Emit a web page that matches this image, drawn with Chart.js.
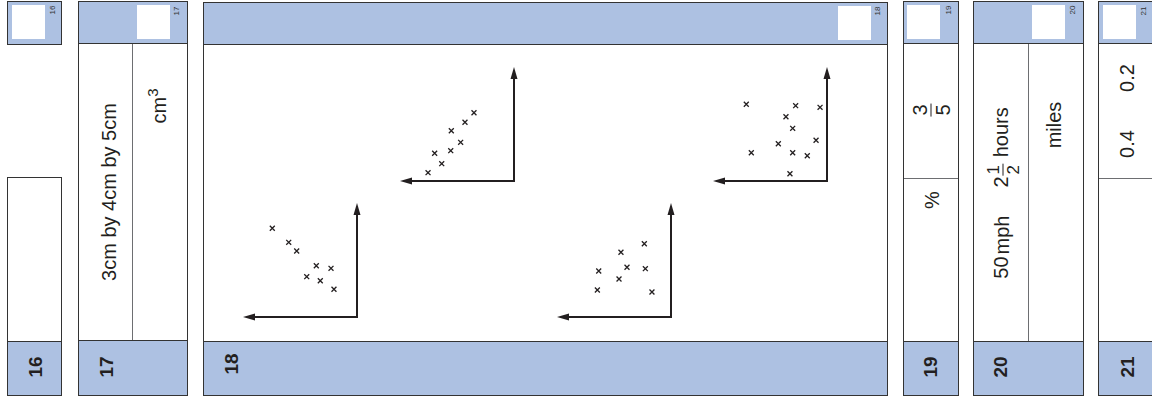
<!DOCTYPE html>
<html>
<head>
<meta charset="utf-8">
<script src="https://cdn.jsdelivr.net/npm/chart.js@4.4.1/dist/chart.umd.min.js"></script>
<style>
  body { margin:0; width:1152px; height:398px; overflow:hidden; position:relative; background:#fff;
         font-family:"Liberation Sans", Arial, sans-serif; color:#231f20; }
  .box  { position:absolute; box-sizing:border-box; border:1.5px solid #333; background:#fff; }
  .blue { position:absolute; background:#adc1e2; box-sizing:border-box; }
  .sq   { position:absolute; background:#fff; }
  .vline { position:absolute; width:0; border-left:1.5px solid #6d6e71; }
  .hline { position:absolute; height:0; border-top:1.5px solid #6d6e71; }
  .rot  { position:absolute; transform:translate(-50%,-50%) rotate(-90deg); white-space:nowrap; line-height:1; }
  .big  { font-size:20px; }
  .num  { font-size:19px; font-weight:bold; }
  .tiny { font-size:8px; color:#333; }
  .frac { display:inline-flex; flex-direction:column; align-items:center; vertical-align:middle; font-size:0.85em; line-height:1; margin:0 1px; }
  .frac span:first-child { border-bottom:1.2px solid #231f20; padding:0 1px 1px; }
  .frac span:last-child { padding-top:1px; }
  .plot { position:absolute; width:130px; height:130px; }
</style>
</head>
<body>

<!-- 16 -->
<div class="box blue" style="left:7px;top:1px;width:55px;height:44px;"></div>
<div class="sq" style="left:12px;top:5px;width:33px;height:34px;"></div>
<div class="rot tiny" style="left:53px;top:10px;">16</div>
<div class="box" style="left:7px;top:177px;width:55px;height:219px;"></div>
<div class="blue" style="left:8px;top:341px;width:53px;height:54px;border-top:1.5px solid #333;"></div>
<div class="rot num" style="left:35px;top:367px;">16</div>

<!-- 17 -->
<div class="box" style="left:78px;top:1px;width:110px;height:395px;"></div>
<div class="blue" style="left:79px;top:2px;width:108px;height:42px;border-bottom:1.5px solid #333;"></div>
<div class="sq" style="left:137px;top:5px;width:33px;height:34px;"></div>
<div class="rot tiny" style="left:177px;top:11px;">17</div>
<div class="vline" style="left:132px;top:44px;height:297px;"></div>
<div class="blue" style="left:79px;top:340px;width:108px;height:55px;border-top:1.5px solid #333;"></div>
<div class="rot num" style="left:106px;top:367px;">17</div>
<div class="rot big" style="left:109px;top:192px;">3cm by 4cm by 5cm</div>
<div class="rot big" style="left:157px;top:106px;">cm<sup style="font-size:0.75em;">3</sup></div>

<!-- 18 -->
<div class="box" style="left:203px;top:2px;width:685px;height:394px;"></div>
<div class="blue" style="left:204px;top:3px;width:683px;height:42px;border-bottom:1.5px solid #333;"></div>
<div class="sq" style="left:838px;top:6px;width:33px;height:34px;"></div>
<div class="rot tiny" style="left:878px;top:11px;">18</div>
<div class="blue" style="left:204px;top:341px;width:683px;height:54px;border-top:1.5px solid #333;"></div>
<div class="rot num" style="left:231px;top:364px;">18</div>

<div class="plot" style="left:235px;top:195px;"><canvas id="plotNeg"></canvas></div>
<div class="plot" style="left:392px;top:59px;"><canvas id="plotPos"></canvas></div>
<div class="plot" style="left:549px;top:195px;"><canvas id="plotWeak"></canvas></div>
<div class="plot" style="left:705px;top:59px;"><canvas id="plotNone"></canvas></div>

<!-- 19 -->
<div class="box" style="left:903px;top:1px;width:56px;height:395px;"></div>
<div class="blue" style="left:904px;top:2px;width:54px;height:42px;border-bottom:1.5px solid #333;"></div>
<div class="sq" style="left:907px;top:5px;width:33px;height:34px;"></div>
<div class="rot tiny" style="left:949px;top:10px;">19</div>
<div class="hline" style="left:904px;top:178px;width:54px;"></div>
<div class="blue" style="left:904px;top:341px;width:54px;height:54px;border-top:1.5px solid #333;"></div>
<div class="rot num" style="left:930px;top:367px;">19</div>
<div class="rot big" style="left:931px;top:110px;"><span class="frac" style="font-size:1em;"><span>3</span><span>5</span></span></div>
<div class="rot big" style="left:932px;top:200px;">%</div>

<!-- 20 -->
<div class="box" style="left:973px;top:1px;width:111px;height:395px;"></div>
<div class="blue" style="left:974px;top:2px;width:109px;height:42px;border-bottom:1.5px solid #333;"></div>
<div class="sq" style="left:1032px;top:5px;width:33px;height:34px;"></div>
<div class="rot tiny" style="left:1073px;top:10px;">20</div>
<div class="vline" style="left:1028px;top:44px;height:297px;"></div>
<div class="blue" style="left:974px;top:341px;width:109px;height:54px;border-top:1.5px solid #333;"></div>
<div class="rot num" style="left:1000px;top:367px;">20</div>
<div class="rot big" style="left:1003px;top:193px;">50<span style="margin-left:2px;">mph</span><span style="display:inline-block;width:28px;"></span>2<span class="frac"><span>1</span><span>2</span></span> hours</div>
<div class="rot big" style="left:1054px;top:125px;">miles</div>

<!-- 21 -->
<div class="box" style="left:1098px;top:1px;width:120px;height:395px;"></div>
<div class="blue" style="left:1099px;top:2px;width:118px;height:42px;border-bottom:1.5px solid #333;"></div>
<div class="sq" style="left:1103px;top:5px;width:33px;height:34px;"></div>
<div class="rot tiny" style="left:1144px;top:11px;">21</div>
<div class="hline" style="left:1099px;top:178px;width:118px;"></div>
<div class="blue" style="left:1099px;top:341px;width:118px;height:54px;border-top:1.5px solid #333;"></div>
<div class="rot num" style="left:1127px;top:367px;">21</div>
<div class="rot big" style="left:1127px;top:78px;">0.2</div>
<div class="rot big" style="left:1127px;top:144px;">0.4</div>

<script>
// four scatter sketches, axes run 0..10, x grows to the left
const negX  = [7.43, 5.99, 5.29, 3.57, 2.28, 4.41, 3.22, 2.02];
const negY  = [7.78, 6.55, 5.79, 4.50, 4.27, 3.54, 3.18, 2.43];

const posX  = [3.51, 4.30, 5.50, 4.68, 5.55, 6.96, 6.34, 7.54];
const posY  = [5.99, 5.15, 4.41, 3.39, 2.66, 2.43, 1.52, 0.73];

const weakX = [2.34, 4.39, 6.34, 3.86, 2.25, 4.56, 6.46, 1.67];
const weakY = [6.43, 5.68, 4.04, 4.36, 4.24, 3.33, 2.37, 2.19];

const noneX = [7.08, 2.75, 0.61, 3.60, 3.01, 0.96, 4.27, 6.64, 3.01, 1.73, 3.25];
const noneY = [6.73, 6.61, 6.46, 5.64, 4.62, 3.57, 3.27, 2.48, 2.48, 2.22, 0.64];

const axisMax = 10;
const ink = '#231f20';

const arrowAxes = {
  id: 'arrowAxes',
  beforeDatasetsDraw(chart) {
    const { ctx, scales: { x, y } } = chart;
    const x0 = x.getPixelForValue(0), x1 = x.getPixelForValue(axisMax);
    const y0 = y.getPixelForValue(0), y1 = y.getPixelForValue(axisMax);
    ctx.save();
    ctx.strokeStyle = ink;
    ctx.fillStyle = ink;
    ctx.lineWidth = 2;
    ctx.beginPath();
    ctx.moveTo(x1 + 8, y0);
    ctx.lineTo(x0, y0);
    ctx.lineTo(x0, y1 + 8);
    ctx.stroke();
    // heads
    ctx.beginPath();
    ctx.moveTo(x1, y0);
    ctx.lineTo(x1 + 12, y0 - 3.5);
    ctx.lineTo(x1 + 12, y0 + 3.5);
    ctx.closePath();
    ctx.fill();
    ctx.beginPath();
    ctx.moveTo(x0, y1);
    ctx.lineTo(x0 - 3.5, y1 + 12);
    ctx.lineTo(x0 + 3.5, y1 + 12);
    ctx.closePath();
    ctx.fill();
    ctx.restore();
  }
};

function renderScatter(id, xs, ys) {
  const ctx = document.getElementById(id).getContext('2d');
  return new Chart(ctx, {
    type: 'scatter',
    data: {
      datasets: [{
        data: xs.map((v, i) => ({ x: v, y: ys[i] })),
        pointStyle: 'crossRot',
        radius: 3.5,
        borderColor: ink,
        borderWidth: 1.3
      }]
    },
    options: {
      animation: false,
      responsive: true,
      maintainAspectRatio: false,
      layout: { padding: 8 },
      plugins: { legend: { display: false }, tooltip: { enabled: false } },
      scales: {
        x: { type: 'linear', min: 0, max: axisMax, reverse: true, display: false },
        y: { type: 'linear', min: 0, max: axisMax, display: false }
      }
    },
    plugins: [arrowAxes]
  });
}

renderScatter('plotNeg',  negX,  negY);
renderScatter('plotPos',  posX,  posY);
renderScatter('plotWeak', weakX, weakY);
renderScatter('plotNone', noneX, noneY);
</script>
</body>
</html>
